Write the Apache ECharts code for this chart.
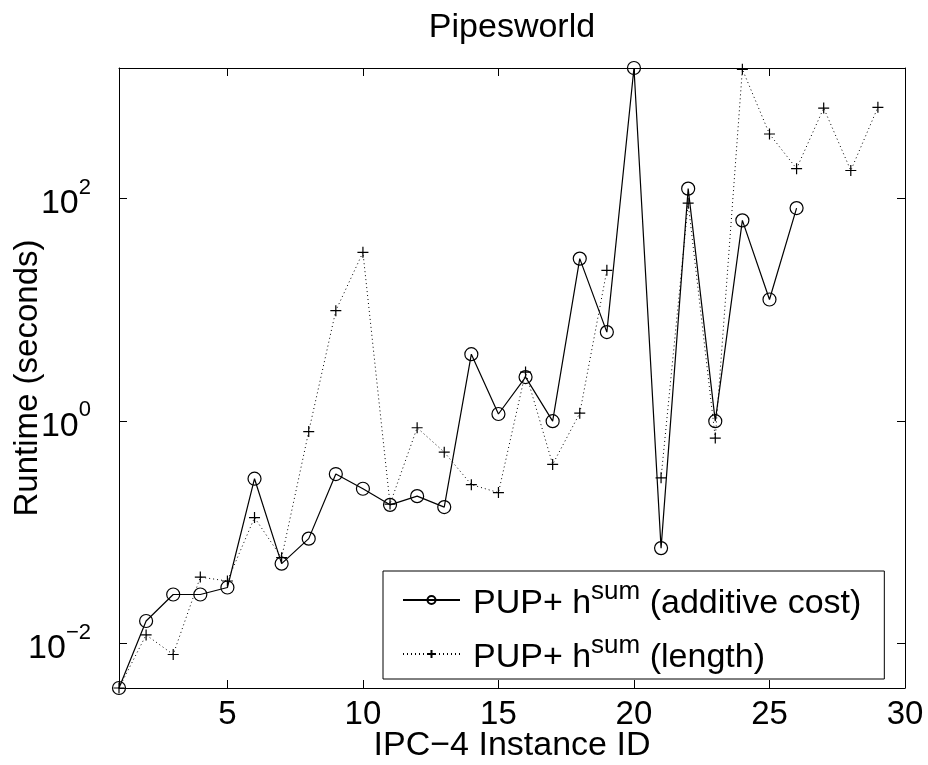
<!DOCTYPE html>
<html>
<head>
<meta charset="utf-8">
<script src="https://cdn.jsdelivr.net/npm/echarts@6/dist/echarts.min.js"></script>
<style>
html,body{margin:0;padding:0;background:#fff;}
#chart{width:928px;height:765px;}
</style>
</head>
<body>
<div id="chart"></div>
<script>
// ---- data (runtime in seconds) ----
const instanceIds = [1,2,3,4,5,6,7,8,9,10,11,12,13,14,15,16,17,18,19,20,21,22,23,24,25,26,27,28,29];
const additiveCost = [0.004,0.016,0.0277,0.0277,0.032,0.304,0.0524,0.088,0.335,0.247,0.177,0.212,0.169,4.0,1.16,2.49,1.0,28.9,6.32,1493,0.0723,123,1.0,63.8,12.4,82.3,null,null,null];
const lengthCost   = [0.004,0.012,0.008,0.0397,0.0366,0.136,0.0593,0.807,9.85,32.9,0.18,0.873,0.527,0.269,0.228,2.76,0.409,1.18,22.7,null,0.31,91,0.705,1453,381,186,652,179,662];
const xTicks = [5,10,15,20,25,30];
const yTickExponents = [-2,0,2];
const seriesNames = ['PUP+ h^sum (additive cost)','PUP+ h^sum (length)'];

const FONT = '"Liberation Sans", Arial, Helvetica, sans-serif';

function toPoints(vals){
  return instanceIds.map((id,i)=> vals[i]==null ? [id,'-'] : [id, Math.log10(vals[i])]);
}
const allVals = additiveCost.concat(lengthCost).filter(v=>v!=null);
const yMin = Math.log10(Math.min.apply(null, allVals));
const yMax = Math.log10(Math.max.apply(null, allVals));
const xMin = instanceIds[0], xMax = 30;

function expLabel(v){
  const e = Math.round(v);
  return '{b|10}{s|' + (e<0 ? '\u2212'+Math.abs(e) : e) + '}';
}
function legendLabel(name){
  const parts = name.split('^sum');
  return '{a|' + parts[0] + '}{s|sum}{a|' + parts[1] + '}';
}

const chart = echarts.init(document.getElementById('chart'), null, {renderer:'canvas'});
const axisLineStyle = {color:'#000', width:1};
const plusPath = 'path://M5,0L5,10M0,5L10,5';

chart.setOption({
  animation:false,
  backgroundColor:'#fff',
  textStyle:{fontFamily:FONT},
  title:{
    text:'Pipesworld', left:512, top:11, textAlign:'center', padding:0,
    textStyle:{fontSize:34, fontWeight:'normal', color:'#000', fontFamily:FONT}
  },
  grid:{left:119, right:23, top:68, bottom:77, containLabel:false, outerBoundsMode:'none'},
  legend:{
    orient:'vertical', left:383, top:571,
    itemWidth:57, itemHeight:10, itemGap:12,
    padding:[8,23,4,19],
    backgroundColor:'#fff', borderColor:'#000', borderWidth:1,
    data:seriesNames,
    formatter:legendLabel,
    textStyle:{
      color:'#000', fontSize:34, fontFamily:FONT, padding:[0,0,0,8],
      rich:{
        a:{fontSize:34, lineHeight:42, verticalAlign:'bottom', color:'#000', fontFamily:FONT},
        s:{fontSize:26, lineHeight:21, verticalAlign:'top', color:'#000', fontFamily:FONT}
      }
    }
  },
  xAxis:[{
    type:'value', min:xMin, max:xMax, position:'bottom',
    axisLine:{show:true, onZero:false, lineStyle:axisLineStyle},
    axisTick:{show:true, inside:true, length:8, customValues:xTicks, lineStyle:axisLineStyle},
    axisLabel:{show:true, customValues:xTicks, fontSize:33, color:'#000', margin:10, fontFamily:FONT},
    splitLine:{show:false},
    name:'IPC\u22124 Instance ID', nameLocation:'middle', nameGap:41, nameMoveOverlap:false,
    nameTextStyle:{fontSize:34, color:'#000', fontFamily:FONT}
  },{
    type:'value', min:xMin, max:xMax, position:'top',
    axisLine:{show:true, onZero:false, lineStyle:axisLineStyle},
    axisTick:{show:true, inside:true, length:8, customValues:xTicks, lineStyle:axisLineStyle},
    axisLabel:{show:false},
    splitLine:{show:false}
  }],
  yAxis:[{
    type:'value', min:yMin, max:yMax, position:'left',
    axisLine:{show:true, onZero:false, lineStyle:axisLineStyle},
    axisTick:{show:true, inside:true, length:8, customValues:yTickExponents, lineStyle:axisLineStyle},
    axisLabel:{
      show:true, customValues:yTickExponents, margin:28, formatter:expLabel,
      rich:{
        b:{fontSize:34, lineHeight:44, verticalAlign:'bottom', color:'#000', fontFamily:FONT},
        s:{fontSize:22, lineHeight:18, verticalAlign:'top', color:'#000', fontFamily:FONT}
      }
    },
    splitLine:{show:false},
    name:'Runtime (seconds)', nameLocation:'middle', nameGap:75, nameMoveOverlap:false,
    nameTextStyle:{fontSize:33, color:'#000', fontFamily:FONT}
  },{
    type:'value', min:yMin, max:yMax, position:'right',
    axisLine:{show:true, onZero:false, lineStyle:axisLineStyle},
    axisTick:{show:true, inside:true, length:8, customValues:yTickExponents, lineStyle:axisLineStyle},
    axisLabel:{show:false},
    splitLine:{show:false}
  }],
  series:[{
    name:seriesNames[0], type:'line', xAxisIndex:0, yAxisIndex:0,
    data:toPoints(additiveCost), connectNulls:false, clip:false,
    symbol:'circle', symbolSize:13, showAllSymbol:true,
    lineStyle:{color:'#000', width:1.2, type:'solid'},
    itemStyle:{color:'rgba(0,0,0,0)', borderColor:'#000', borderWidth:1.2},
    emphasis:{disabled:true}
  },{
    name:seriesNames[1], type:'line', xAxisIndex:0, yAxisIndex:0,
    data:toPoints(lengthCost), connectNulls:false, clip:false,
    symbol:plusPath, symbolSize:11, showAllSymbol:true,
    lineStyle:{color:'#000', width:1, type:[1,3]},
    itemStyle:{color:'rgba(0,0,0,0)', borderColor:'#000', borderWidth:1.2},
    emphasis:{disabled:true}
  }]
});
</script>
</body>
</html>
